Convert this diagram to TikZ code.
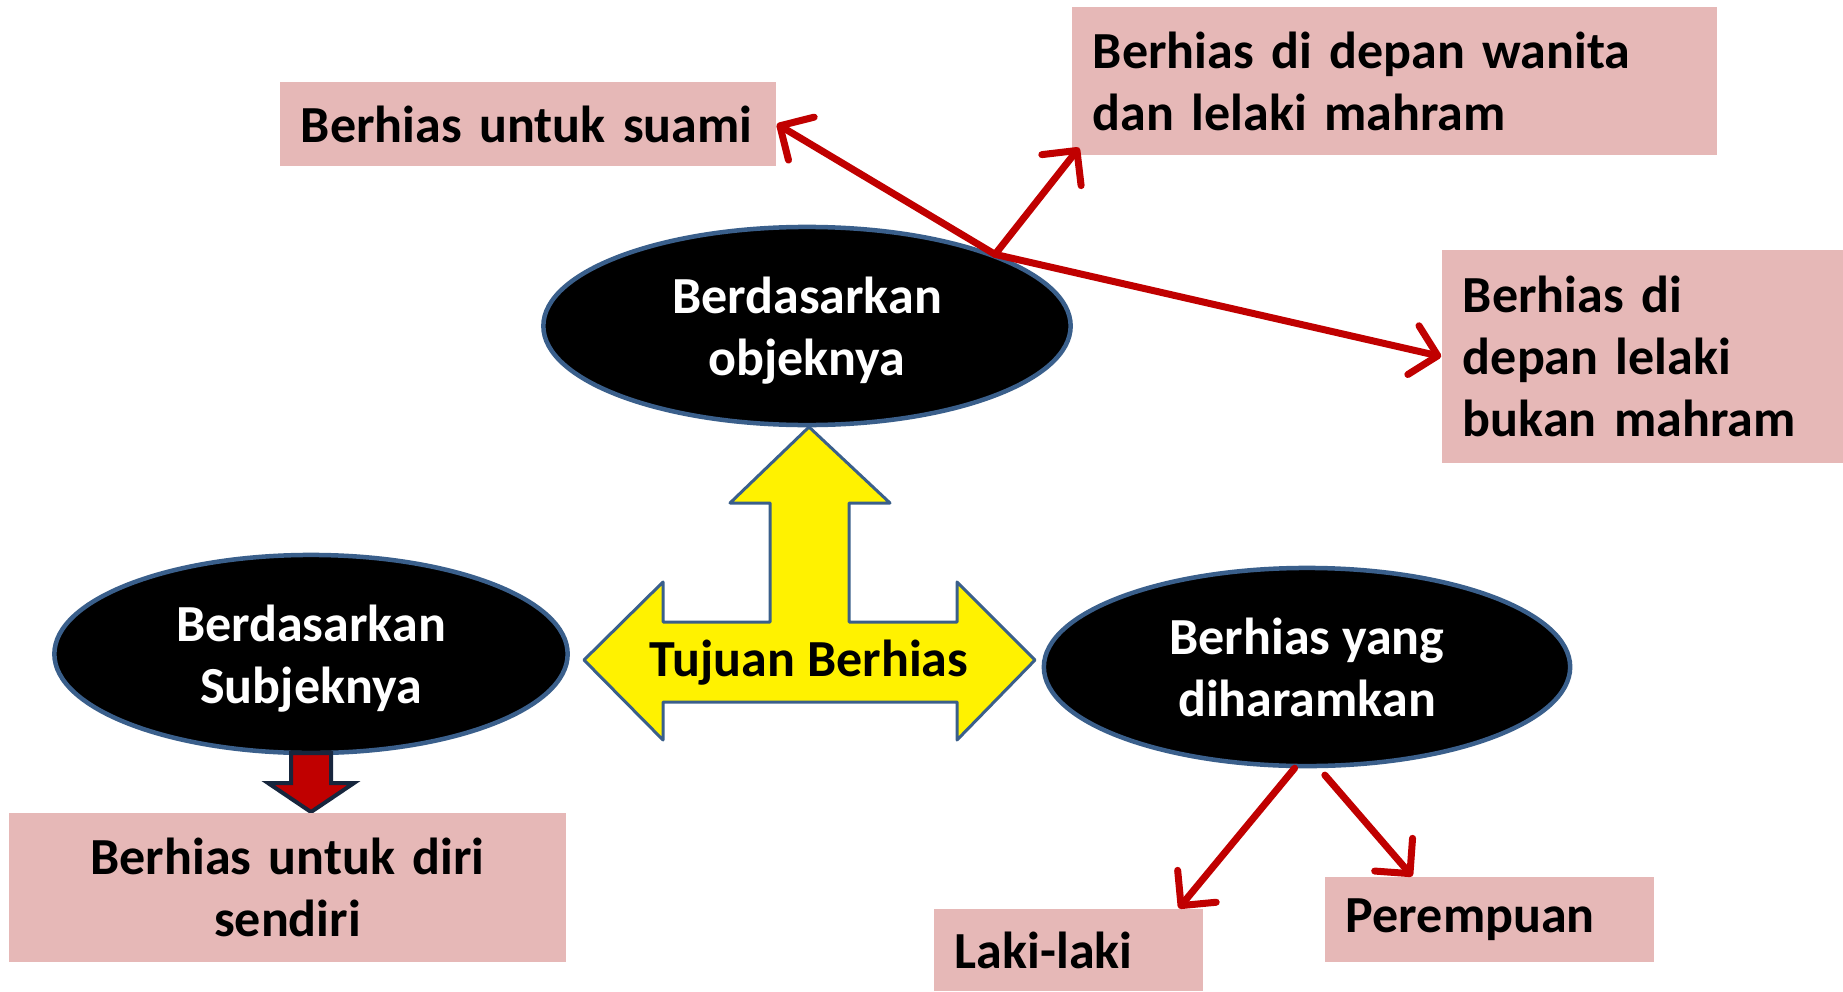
\documentclass[tikz,border=0pt]{standalone}
\usepackage{fontspec}
\setmainfont{Carlito}
\usetikzlibrary{shapes.geometric,arrows.meta}
\definecolor{pinkbox}{HTML}{E6B8B7}
\definecolor{darkred}{HTML}{C00000}
\definecolor{rimblue}{HTML}{3A5F8B}
\definecolor{navy}{HTML}{17263D}
\begin{document}
\begin{tikzpicture}[x=0.01cm, y=-0.01cm,
  txt/.style={font=\fontsize{14.8pt}{17.6pt}\selectfont\bfseries},
  oval/.style={ellipse, fill=black, draw=rimblue, line width=0.045cm, minimum height=1.98cm, inner sep=0, text depth=0pt, text=white, align=center, txt},
  pbox/.style={rectangle, fill=pinkbox, inner xsep=0.21cm, inner ysep=0, txt},
  redarr/.style={draw=darkred, line width=0.07cm, line cap=round, -{Straight Barb[round, length=0.25cm, width=0.5cm]}}]
\useasboundingbox (0,0) rectangle (1843,991);
\draw[fill=yellow, draw=rimblue, line width=0.03cm, line join=round] (809,427) -- (890,503) -- (849,503) -- (849,622) -- (957,622) -- (957,582) -- (1035,660) -- (957,740) -- (957,702) -- (663,702) -- (663,740) -- (584,660) -- (663,582) -- (663,622) -- (770,622) -- (770,503) -- (730,503) -- cycle;
\node[txt] (tujuan) at (809,663) {Tujuan Berhias};
\node[oval, minimum width=5.27cm] (objek) at (807,326) {Berdasarkan\\objeknya};
\node[oval, minimum width=5.13cm] (subjek) at (311,654) {Berdasarkan\\Subjeknya};
\node[oval, minimum width=5.26cm] (haram) at (1307,667) {Berhias yang\\diharamkan};
\draw[fill=darkred, draw=navy, line width=0.04cm] (291,753) -- (331,753) -- (331,783) -- (354,783) -- (311,812) -- (268,783) -- (291,783) -- cycle;
\node[pbox, text width=4.54cm, minimum height=0.84cm, align=left] (suami) at (528,124) {Berhias untuk suami};
\node[pbox, text width=6.03cm, minimum height=1.48cm, align=left] (wanita) at (1394.5,81) {Berhias di depan wanita\\dan lelaki mahram};
\node[pbox, text width=3.59cm, minimum height=2.13cm, align=left] (bukan) at (1642.5,356.5) {Berhias di\\depan lelaki\\bukan mahram};
\node[pbox, text width=5.15cm, minimum height=1.49cm, align=center] (diri) at (287.5,887.5) {Berhias untuk diri\\sendiri};
\node[pbox, text width=2.27cm, minimum height=0.82cm, align=left] (laki) at (1068.5,950) {Laki-laki};
\node[pbox, text width=2.87cm, minimum height=0.85cm, align=left] (perempuan) at (1489.5,919.5) {Perempuan};
\draw[redarr](objek.north east) -- (suami.east);
\draw[redarr](objek.north east) -- ([xshift=0.08cm, yshift=0.08cm]wanita.south west);
\draw[redarr](objek.north east) -- (bukan.west);
\draw[redarr](haram.263) -- ([xshift=-0.25cm]laki.north east);
\draw[redarr]([yshift=-0.07cm]haram.280) -- ([xshift=0.88cm]perempuan.north west);
\end{tikzpicture}
\end{document}
